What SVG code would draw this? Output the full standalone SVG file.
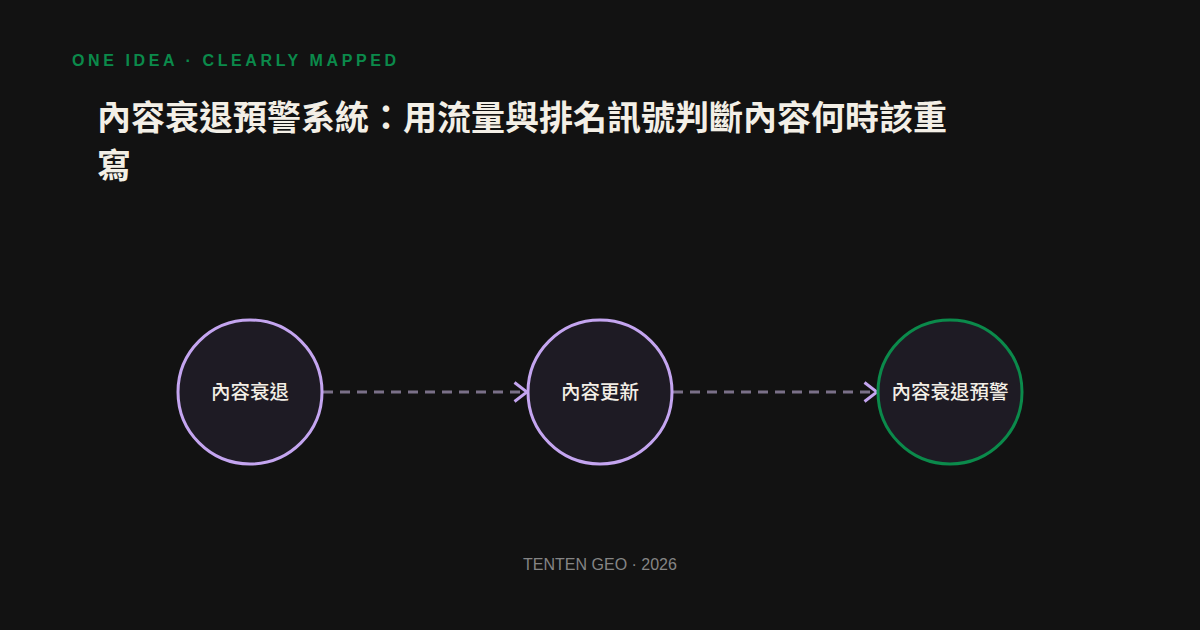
<svg xmlns="http://www.w3.org/2000/svg" width="1200" height="630" viewBox="0 0 1200 630">
<style>
.cjk{font-family:"Noto Sans CJK TC","Noto Sans CJK SC",sans-serif}
.node{fill:#1e1b24;stroke-width:3}
.lav{stroke:#c4a5f0}
.grn{stroke:#0b8a4b}
.lbl{font-size:19.5px;font-weight:500;fill:#f3efe6;text-anchor:middle}
.edge{stroke:#7a7088;stroke-width:3;stroke-dasharray:10 7;fill:none}
</style>
<defs>
<marker id="arr" viewBox="0 0 16 22" refX="15" refY="11" markerWidth="16" markerHeight="22" markerUnits="userSpaceOnUse" orient="auto">
<path d="M1.5 1.5 L14 11 L1.5 20.5" fill="none" stroke="#c4a5f0" stroke-width="3"/>
</marker>
</defs>
<rect width="1200" height="630" fill="#121212"/>
<text x="72" y="66" font-family="Liberation Sans,Arial,sans-serif" font-size="16" font-weight="700" fill="#0b8a4b" letter-spacing="3.6">ONE IDEA · CLEARLY MAPPED</text>
<text class="cjk" x="97" y="130" font-size="34" font-weight="700" fill="#f3efe6">內容衰退預警系統：用流量與排名訊號判斷內容何時該重</text>
<text class="cjk" x="97" y="178" font-size="34" font-weight="700" fill="#f3efe6">寫</text>
<g id="connectors">
<line class="edge" x1="323" y1="392" x2="528" y2="392" marker-end="url(#arr)"/>
<line class="edge" x1="673" y1="392" x2="878" y2="392" marker-end="url(#arr)"/>
</g>
<g id="n1">
<circle class="node lav" cx="250" cy="392" r="72"/>
<text class="cjk lbl" x="250" y="399">內容衰退</text>
</g>
<g id="n2">
<circle class="node lav" cx="600" cy="392" r="72"/>
<text class="cjk lbl" x="600" y="399">內容更新</text>
</g>
<g id="n3">
<circle class="node grn" cx="950" cy="392" r="72"/>
<text class="cjk lbl" x="950" y="399">內容衰退預警</text>
</g>
<text x="600" y="570" font-family="Liberation Sans,Arial,sans-serif" font-size="16" fill="#858585" text-anchor="middle">TENTEN GEO · 2026</text>
</svg>
